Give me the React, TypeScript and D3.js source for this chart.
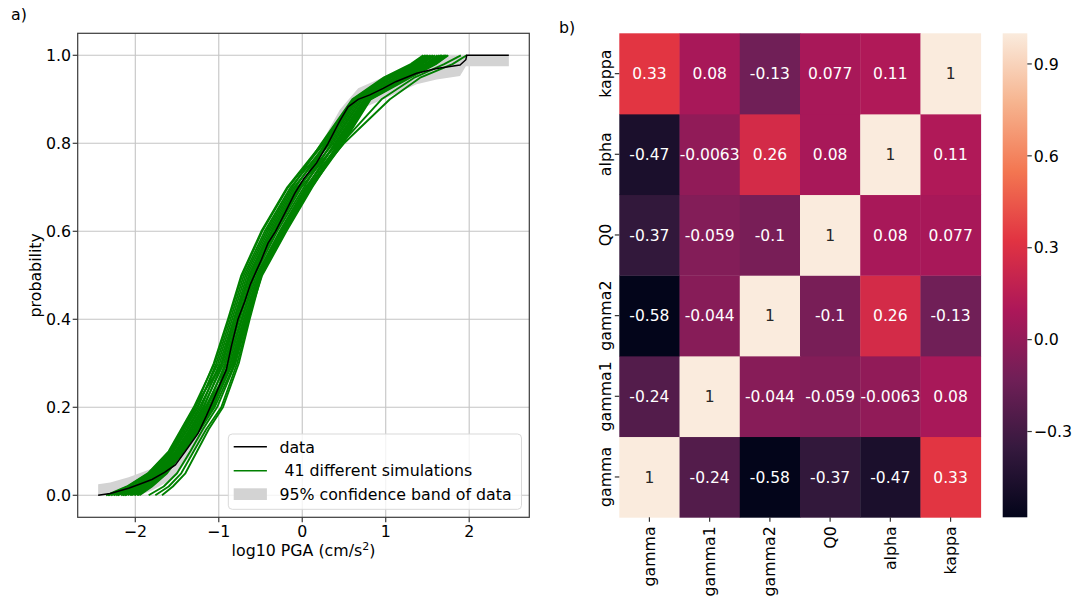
import React from "react";
import * as d3 from "d3";

// ---- panel a) data: empirical CDF of log10 PGA ----
const dataPGA = [-2.445, -2.3, -2.08, -1.95, -1.8, -1.65, -1.52, -1.4, -1.25, -1.15, -1.08, -0.99, -0.91, -0.85, -0.77, -0.69, -0.62, -0.55, -0.49, -0.41, -0.32, -0.19, -0.09, 0.02, 0.17, 0.31, 0.45, 0.55, 0.67, 0.81, 0.97, 1.12, 1.37, 1.61, 1.89, 1.96, 1.97, 2.475];
const dataProb = [0, 0.004, 0.016, 0.025, 0.036, 0.052, 0.069, 0.1, 0.14, 0.18, 0.21, 0.25, 0.285, 0.338, 0.4, 0.44, 0.48, 0.51, 0.535, 0.573, 0.6, 0.648, 0.686, 0.72, 0.755, 0.8, 0.851, 0.883, 0.9, 0.91, 0.925, 0.94, 0.959, 0.97, 0.978, 0.99, 1, 1];

// 95% confidence band of the data
const bandPGA = [-2.445, -2.3, -2.08, -1.95, -1.8, -1.65, -1.52, -1.4, -1.25, -1.08, -0.91, -0.77, -0.62, -0.49, -0.32, -0.09, 0.17, 0.45, 0.67, 0.97, 1.37, 1.61, 1.89, 1.96, 2.475];
const bandLow = [0, 0, 0, 0, 0.011, 0.027, 0.044, 0.075, 0.115, 0.185, 0.26, 0.375, 0.455, 0.51, 0.575, 0.661, 0.73, 0.826, 0.875, 0.9, 0.934, 0.945, 0.953, 0.975, 0.975];
const bandHigh = [0.025, 0.029, 0.041, 0.05, 0.061, 0.077, 0.094, 0.125, 0.165, 0.235, 0.31, 0.425, 0.505, 0.56, 0.625, 0.711, 0.78, 0.876, 0.925, 0.95, 0.984, 0.995, 1, 1, 1];

// simulated CDFs: log10 PGA at each probability level
const simLevels = [0, 0.02, 0.05, 0.1, 0.15, 0.2, 0.3, 0.4, 0.5, 0.6, 0.7, 0.8, 0.9, 0.95, 0.98, 1.0];
const simulations = [
  [-2.35, -2.1, -1.85, -1.6, -1.45, -1.3, -1.05, -0.88, -0.72, -0.48, -0.17, 0.26, 0.62, 1.01, 1.33, 1.48],
  [-2.32, -2.08, -1.83, -1.59, -1.43, -1.28, -1.06, -0.89, -0.73, -0.49, -0.18, 0.24, 0.61, 1.0, 1.32, 1.47],
  [-2.29, -2.06, -1.82, -1.57, -1.42, -1.26, -1.01, -0.84, -0.68, -0.43, -0.12, 0.23, 0.6, 0.98, 1.3, 1.45],
  [-2.26, -2.03, -1.8, -1.56, -1.4, -1.25, -1.03, -0.86, -0.7, -0.45, -0.14, 0.3, 0.66, 1.06, 1.38, 1.53],
  [-2.23, -2.01, -1.78, -1.55, -1.38, -1.23, -0.97, -0.81, -0.64, -0.39, -0.08, 0.28, 0.64, 1.04, 1.35, 1.5],
  [-2.21, -1.99, -1.77, -1.54, -1.37, -1.21, -0.99, -0.82, -0.66, -0.41, -0.1, 0.33, 0.69, 1.11, 1.42, 1.57],
  [-2.17, -1.97, -1.75, -1.52, -1.35, -1.19, -0.94, -0.77, -0.61, -0.34, -0.03, 0.31, 0.67, 1.08, 1.4, 1.55],
  [-2.15, -1.95, -1.74, -1.51, -1.34, -1.18, -0.96, -0.79, -0.63, -0.36, -0.05, 0.37, 0.72, 1.16, 1.47, 1.62],
  [-2.12, -1.93, -1.72, -1.5, -1.32, -1.16, -0.9, -0.73, -0.57, -0.3, 0.02, 0.35, 0.71, 1.13, 1.44, 1.59],
  [-2.09, -1.91, -1.7, -1.49, -1.3, -1.14, -0.92, -0.75, -0.59, -0.32, -0.01, 0.41, 0.75, 1.2, 1.51, 1.66],
  [-2.06, -1.88, -1.68, -1.47, -1.28, -1.12, -0.86, -0.7, -0.53, -0.25, 0.06, 0.39, 0.74, 1.18, 1.49, 1.64],
  [-2.04, -1.87, -1.67, -1.46, -1.27, -1.11, -0.88, -0.72, -0.55, -0.27, 0.04, 0.45, 0.79, 1.25, 1.56, 1.71],
  [-2.01, -1.84, -1.65, -1.45, -1.25, -1.09, -0.83, -0.67, -0.5, -0.21, 0.1, 0.43, 0.77, 1.23, 1.53, 1.68],
  [-1.98, -1.82, -1.64, -1.43, -1.24, -1.07, -0.84, -0.68, -0.51, -0.23, 0.08, 0.48, 0.81, 1.28, 1.59, 1.74],
  [-1.95, -1.8, -1.62, -1.42, -1.22, -1.05, -0.81, -0.65, -0.48, -0.19, 0.12, 0.46, 0.8, 1.27, 1.57, 1.72],
  [-2.33, -2.09, -1.84, -1.59, -1.44, -1.29, -0.96, -0.79, -0.63, -0.37, -0.06, 0.43, 0.77, 1.22, 1.53, 1.68],
  [-1.97, -1.81, -1.63, -1.43, -1.23, -1.06, -0.92, -0.76, -0.59, -0.33, -0.02, 0.28, 0.64, 1.04, 1.36, 1.51],
  [-2.13, -1.94, -1.72, -1.5, -1.32, -1.16, -0.82, -0.66, -0.49, -0.21, 0.11, 0.49, 0.82, 1.3, 1.6, 1.75],
  [-1.76, -1.6, -1.45, -1.3, -1.15, -0.97, -0.78, -0.64, -0.5, -0.22, 0.08, 0.45, 0.8, 1.26, 1.56, 1.72],
  [-1.84, -1.66, -1.5, -1.34, -1.19, -1.02, -0.8, -0.66, -0.52, -0.26, 0.05, 0.4, 0.76, 1.2, 1.5, 1.66],
  [-1.68, -1.55, -1.4, -1.26, -1.12, -0.95, -0.76, -0.63, -0.49, -0.2, 0.1, 0.47, 0.79, 1.24, 1.55, 1.7],
  [-2.06, -1.88, -1.68, -1.47, -1.28, -1.12, -0.86, -0.7, -0.53, -0.25, 0.06, 0.5, 1.05, 1.42, 1.8, 1.97],
  [-2.01, -1.84, -1.65, -1.45, -1.25, -1.09, -0.84, -0.68, -0.51, -0.23, 0.08, 0.47, 0.95, 1.35, 1.7, 1.9],
];

const xTicks = [-2, -1, 0, 1, 2];
const yTicks = [0, 0.2, 0.4, 0.6, 0.8, 1.0];

// ---- panel b) correlation matrix ----
const params = ["gamma", "gamma1", "gamma2", "Q0", "alpha", "kappa"];
const corr = [
  [1, -0.24, -0.58, -0.37, -0.47, 0.33],
  [-0.24, 1, -0.044, -0.059, -0.0063, 0.08],
  [-0.58, -0.044, 1, -0.1, 0.26, -0.13],
  [-0.37, -0.059, -0.1, 1, 0.08, 0.077],
  [-0.47, -0.0063, 0.26, 0.08, 1, 0.11],
  [0.33, 0.08, -0.13, 0.077, 0.11, 1],
];
const cbarTicks = [0.9, 0.6, 0.3, 0.0, -0.3];

// seaborn "rocket" colormap stops
const rocketStops = ["#03051a", "#35193e", "#701f57", "#ad1759", "#e13342", "#f37651", "#f6b48f", "#faebdd"];

const font = "DejaVu Sans";
const fs = 15.8;
const fsAnnot = 15.5;

export default function App() {
  // panel a geometry
  const a = { left: 77.7, right: 529.3, top: 33.3, bottom: 517.3 };
  const x = d3.scaleLinear().domain([-2.69, 2.72]).range([a.left, a.right]);
  const y = d3.scaleLinear().domain([-0.05, 1.05]).range([a.bottom, a.top]);

  const simLine = d3.line<number>().x((d) => x(d)).y((_, i) => y(simLevels[i]));
  const dataLine = d3.line<number>().x((d) => x(d)).y((_, i) => y(dataProb[i]));
  const bandArea = d3
    .area<number>()
    .x((d) => x(d))
    .y0((_, i) => y(bandLow[i]))
    .y1((_, i) => y(bandHigh[i]));

  // panel b geometry
  const h = { left: 619.3, right: 980.7, top: 33.3, bottom: 517.3 };
  const col = d3.scaleBand().domain(params).range([h.left, h.right]);
  const row = d3.scaleBand().domain(params).range([h.bottom, h.top]);
  const vmin = d3.min(corr.flat()) as number;
  const vmax = d3.max(corr.flat()) as number;
  const rocket = d3.scaleLinear<string>()
    .domain(rocketStops.map((_, i) => vmin + ((vmax - vmin) * i) / (rocketStops.length - 1)))
    .range(rocketStops)
    .interpolate(d3.interpolateRgb);
  const cb = { left: 1002.7, right: 1027.3 };
  const cy = d3.scaleLinear().domain([vmin, vmax]).range([h.bottom, h.top]);
  const fmt1 = d3.format(".1f");
  const fmtInt = d3.format("d");

  const textColor = (v: number) => {
    const c = d3.rgb(rocket(v));
    const lin = (u: number) => {
      const s = u / 255;
      return s <= 0.03928 ? s / 12.92 : Math.pow((s + 0.055) / 1.055, 2.4);
    };
    const lum = 0.2126 * lin(c.r) + 0.7152 * lin(c.g) + 0.0722 * lin(c.b);
    return lum > 0.408 ? "#262626" : "#ffffff";
  };

  return (
    <svg
      width={1076}
      height={597}
      style={{ position: "absolute", left: 0, top: 0, background: "#fff" }}
      fontFamily={font}
    >
      <defs>
        <linearGradient id="cbar" x1="0" y1="1" x2="0" y2="0">
          {rocketStops.map((c, i) => (
            <stop key={i} offset={i / (rocketStops.length - 1)} stopColor={c} />
          ))}
        </linearGradient>
        <clipPath id="plotA">
          <rect x={a.left} y={a.top} width={a.right - a.left} height={a.bottom - a.top} />
        </clipPath>
      </defs>

      {/* ---------- panel a ---------- */}
      <text x={11} y={20} fontSize={fs} fill="#000">a)</text>

      {xTicks.map((t) => (
        <line key={`gx${t}`} x1={x(t)} x2={x(t)} y1={a.top} y2={a.bottom} stroke="#c4c4c4" strokeWidth={1.1} />
      ))}
      {yTicks.map((t) => (
        <line key={`gy${t}`} x1={a.left} x2={a.right} y1={y(t)} y2={y(t)} stroke="#c4c4c4" strokeWidth={1.1} />
      ))}

      <g clipPath="url(#plotA)">
        <path d={bandArea(bandPGA) || ""} fill="#d3d3d3" stroke="none" />
        {simulations.map((s, i) => (
          <path key={`sim${i}`} d={simLine(s) || ""} fill="none" stroke="#008000" strokeWidth={1.9} strokeLinejoin="round" />
        ))}
        <path d={dataLine(dataPGA) || ""} fill="none" stroke="#000" strokeWidth={1.5} />
      </g>

      {/* legend */}
      <g>
        <rect x={228.3} y={434} width={293.2} height={75.3} rx={4} fill="#fff" fillOpacity={0.8} stroke="#d9d9d9" />
        <line x1={233.7} x2={266.9} y1={446.7} y2={446.7} stroke="#000" strokeWidth={1.5} />
        <text x={279.4} y={452.5} fontSize={fs}>data</text>
        <line x1={233.7} x2={266.9} y1={470.7} y2={470.7} stroke="#008000" strokeWidth={1.5} />
        <text x={279.4} y={476.3} fontSize={fs} style={{ whiteSpace: "pre" }}>{" 41 different simulations"}</text>
        <rect x={233.7} y={488.3} width={33.2} height={11.7} fill="#d3d3d3" />
        <text x={279.4} y={499.9} fontSize={fs}>95% confidence band of data</text>
      </g>

      {/* spines */}
      <rect x={a.left} y={a.top} width={a.right - a.left} height={a.bottom - a.top} fill="none" stroke="#3a3a3a" strokeWidth={1.2} />

      {xTicks.map((t) => (
        <g key={`xt${t}`}>
          <line x1={x(t)} x2={x(t)} y1={a.bottom} y2={a.bottom + 5} stroke="#3a3a3a" strokeWidth={1.2} />
          <text x={x(t)} y={536.8} fontSize={fs} textAnchor="middle">{fmtInt(t)}</text>
        </g>
      ))}
      {yTicks.map((t) => (
        <g key={`yt${t}`}>
          <line x1={a.left - 5} x2={a.left} y1={y(t)} y2={y(t)} stroke="#3a3a3a" strokeWidth={1.2} />
          <text x={71} y={y(t)} dy="0.36em" fontSize={fs} textAnchor="end">{fmt1(t)}</text>
        </g>
      ))}

      <text x={(a.left + a.right) / 2} y={555.5} fontSize={fs} textAnchor="middle">
        log10 PGA (cm/s
        <tspan dy={-6} fontSize={11}>2</tspan>
        <tspan dy={6}>)</tspan>
      </text>
      <text transform={`translate(41,${(a.top + a.bottom) / 2}) rotate(-90)`} fontSize={fs} textAnchor="middle">
        probability
      </text>

      {/* ---------- panel b ---------- */}
      <text x={559} y={33} fontSize={fs}>b)</text>

      {params.map((rp, ri) =>
        params.map((cp, ci) => {
          const v = corr[ri][ci];
          return (
            <g key={`c${ri}-${ci}`}>
              <rect
                x={col(cp)}
                y={row(rp)}
                width={col.bandwidth() + 0.4}
                height={row.bandwidth() + 0.4}
                fill={rocket(v)}
              />
              <text
                x={(col(cp) as number) + col.bandwidth() / 2}
                y={(row(rp) as number) + row.bandwidth() / 2}
                dy="0.36em"
                fontSize={fsAnnot}
                textAnchor="middle"
                fill={textColor(v)}
              >
                {String(v)}
              </text>
            </g>
          );
        })
      )}

      {params.map((p) => {
        const cx = (col(p) as number) + col.bandwidth() / 2;
        const ry = (row(p) as number) + row.bandwidth() / 2;
        return (
          <g key={`lab${p}`}>
            <line x1={cx} x2={cx} y1={h.bottom} y2={h.bottom + 4.5} stroke="#333" strokeWidth={1.2} />
            <text transform={`translate(${cx + 5.5},${h.bottom + 9}) rotate(-90)`} fontSize={fs} textAnchor="end">
              {p}
            </text>
            <line x1={h.left - 4.5} x2={h.left} y1={ry} y2={ry} stroke="#333" strokeWidth={1.2} />
            <text transform={`translate(${h.left - 8.5},${ry}) rotate(-90)`} fontSize={fs} textAnchor="middle">
              {p}
            </text>
          </g>
        );
      })}

      {/* colorbar */}
      <rect x={cb.left} y={h.top} width={cb.right - cb.left} height={h.bottom - h.top} fill="url(#cbar)" />
      {cbarTicks.map((t) => (
        <g key={`cb${t}`}>
          <line x1={cb.right} x2={cb.right + 4.5} y1={cy(t)} y2={cy(t)} stroke="#333" strokeWidth={1.2} />
          <text x={cb.right + 6.5} y={cy(t)} dy="0.36em" fontSize={fs}>{fmt1(t)}</text>
        </g>
      ))}
    </svg>
  );
}
